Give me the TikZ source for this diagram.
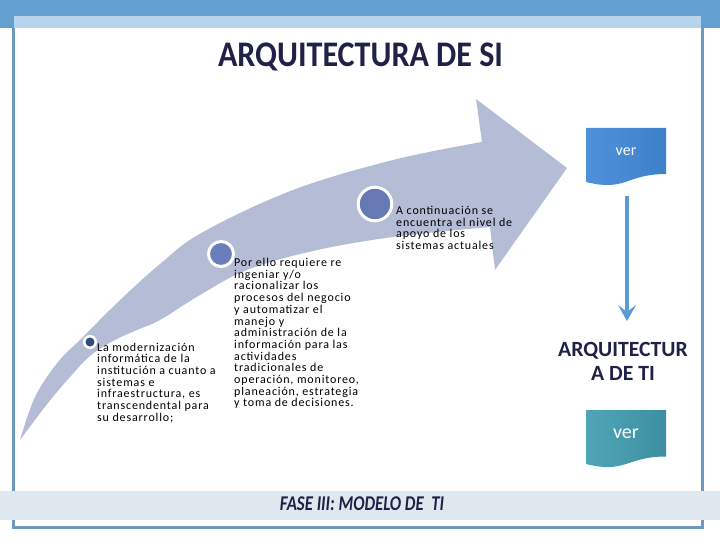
\documentclass[tikz,border=0pt]{standalone}
\usepackage{fontspec}
\usepackage{graphicx}
\setmainfont{Carlito}
\usetikzlibrary{arrows.meta}
\definecolor{topband}{HTML}{63A0D2}
\definecolor{topstrip}{HTML}{B8D3EC}
\definecolor{frameline}{HTML}{7099BF}
\definecolor{footband}{HTML}{DEE8EE}
\definecolor{navy}{HTML}{1F2147}
\definecolor{arrowc}{HTML}{B5BCD6}
\definecolor{dotA}{HTML}{2F4B7E}
\definecolor{dotB}{HTML}{6A7EB9}
\definecolor{dotC}{HTML}{6679B5}
\definecolor{boxblueA}{HTML}{4F91D9}
\definecolor{boxblueB}{HTML}{3F80CB}
\definecolor{tealA}{HTML}{4FA6B7}
\definecolor{tealB}{HTML}{3D8FA0}
\definecolor{downarrow}{HTML}{5B9BD5}
\begin{document}
\begin{tikzpicture}[x=1pt,y=-1pt,
  bodytext/.style={anchor=north west, inner sep=0pt, align=left,
    font=\fontsize{12}{11.7}\selectfont\addfontfeature{LetterSpace=7}},
  stepdot/.style={circle, draw=white, line width=#1, inner sep=0pt},
  vertext/.style={text=white, inner sep=0pt}]
\useasboundingbox (0,0) rectangle (720,540);
% frame
\fill[topband] (0,0) rectangle (720,28);
\fill[topstrip] (14,16) rectangle (701,28);
\draw[frameline, line width=3pt] (13,28) -- (13,527) -- (702,527) -- (702,28);
\fill[footband] (0,491) rectangle (720,520);
% title
\node[font=\fontsize{36}{40}\selectfont\bfseries, text=navy, anchor=base, inner sep=0pt] (title) at (360.5,67) {\scalebox{0.89}[1]{ARQUITECTURA DE SI}};
\node[font=\fontsize{21}{24}\selectfont\bfseries\itshape, text=navy, anchor=base, inner sep=0pt] (foot) at (362,510) {\scalebox{0.8}[1]{FASE III: MODELO DE\ \ TI}};
% big curved arrow
\fill[arrowc] plot[smooth, tension=0.6] coordinates {(20,440) (35,397) (58,362) (82,338) (117,303) (160,264) (203,232) (293,190) (393,160) (482,142)}
  -- (476,99) -- (567,168) -- (495,270) -- (490,227)
  -- plot[smooth, tension=0.6] coordinates {(490,227) (393,237) (313,251) (247,270) (200,295) (160,320) (137,330) (113,341) (90,356) (70,377) (48,403) (20,440)} -- cycle;
% dots
\node[stepdot=2.5pt, fill=dotA, minimum size=11.5pt] (c1) at (90,342) {};
\node[stepdot=3pt, fill=dotB, minimum size=25pt] (c2) at (221,254) {};
\node[stepdot=3pt, fill=dotC, minimum size=33.6pt] (c3) at (375,204) {};
% texts
\node[bodytext] (t1) at (97,342.5) {La modernización\\informática de la\\institución a cuanto a\\sistemas e\\infraestructura, es\\transcendental para\\su desarrollo;};
\node[bodytext] (t2) at (234,258) {Por ello requiere re\\ingeniar y/o\\racionalizar los\\procesos del negocio\\y automatizar el\\manejo y\\administración de la\\información para las\\actividades\\tradicionales de\\operación, monitoreo,\\planeación, estrategia\\y toma de decisiones.};
\node[bodytext] (t3) at (396,206) {A continuación se\\encuentra el nivel de\\apoyo de los\\sistemas actuales};
% right side
\path[left color=boxblueA, right color=boxblueB] (586,128) -- (666,128) -- (666,174) .. controls (626,174) and (626,192) .. (586,182) -- cycle;
\node[vertext, font=\fontsize{16}{18}\selectfont] (ver1) at (626,152) {ver};
\coordinate (arrS) at (627,196);
\coordinate (arrE) at (627,321);
\draw[downarrow, line width=4.5pt, -{Stealth[length=16pt, width=18pt, inset=7pt]}] (arrS) -- (arrE);
\node[font=\fontsize{21.7}{24.5}\selectfont\bfseries, text=navy, align=center, anchor=north, inner sep=0pt] (arq) at (623,342) {ARQUITECTUR\\A DE TI};
\path[left color=tealA, right color=tealB] (586,410) -- (666,410) -- (666,456.5) .. controls (626,456.5) and (626,474) .. (586,464) -- cycle;
\node[vertext, font=\fontsize{20}{22}\selectfont] (ver2) at (626,434) {ver};
\end{tikzpicture}
\end{document}
